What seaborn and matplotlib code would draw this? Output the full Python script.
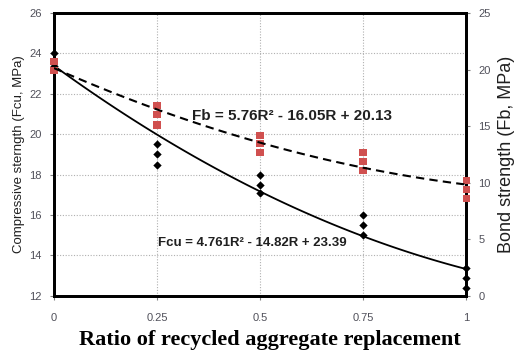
import numpy as np
import pandas as pd
import matplotlib
matplotlib.use("Agg")
import matplotlib.pyplot as plt
import seaborn as sns

# ---- data ----
fcu_ratio = [0, 0, 0.25, 0.25, 0.25, 0.5, 0.5, 0.5, 0.75, 0.75, 0.75, 1, 1, 1]
fcu_value = [24.0, 23.4, 19.5, 19.0, 18.5, 18.0, 17.5, 17.1, 16.0, 15.5, 15.0, 13.4, 12.9, 12.4]

fb_ratio = [0, 0, 0.25, 0.25, 0.25, 0.5, 0.5, 0.5, 0.75, 0.75, 0.75, 1, 1, 1]
fb_value = [20.7, 19.9, 16.8, 16.0, 15.1, 14.2, 13.5, 12.7, 12.7, 11.9, 11.1, 10.2, 9.4, 8.6]

# trendline coefficients shown on the chart (a*R^2 + b*R + c)
fcu_coef = [4.761, -14.82, 23.39]
fb_coef = [5.76, -16.05, 20.13]

x_ticks = [0, 0.25, 0.5, 0.75, 1]
x_ticklabels = ["0", "0.25", "0.5", "0.75", "1"]
left_ticks = [12, 14, 16, 18, 20, 22, 24, 26]
right_ticks = [0, 5, 10, 15, 20, 25]

sns.set_style("white")
plt.rcParams["font.family"] = ["Liberation Sans", "DejaVu Sans"]

fig = plt.figure(figsize=(5.19, 3.60), dpi=100)
ax = fig.add_axes([0.104, 0.178, 0.794, 0.786])
ax2 = ax.twinx()

R = np.linspace(0, 1, 101)
trend = pd.DataFrame({
    "R": R,
    "Fcu": np.polyval(fcu_coef, R),
    "Fb": np.polyval(fb_coef, R),
})

grid_kw = dict(color="#b0b0b0", linestyle=(0, (1, 1.5)), linewidth=0.8)
for t in left_ticks[1:-1]:
    ax.axhline(t, zorder=0, **grid_kw)
for t in x_ticks[1:-1]:
    ax.axvline(t, zorder=0, **grid_kw)

sns.lineplot(data=trend, x="R", y="Fcu", ax=ax, color="black", linewidth=1.3, zorder=3)
sns.scatterplot(x=fcu_ratio, y=fcu_value, ax=ax, marker="D", s=18, color="black",
                edgecolor="black", linewidth=0, zorder=4, clip_on=False)

sns.scatterplot(x=fb_ratio, y=fb_value, ax=ax2, marker="s", s=26, color="#d0504f",
                edgecolor="none", linewidth=0, zorder=3, clip_on=False)
sns.lineplot(data=trend, x="R", y="Fb", ax=ax2, color="black", linewidth=1.5,
             linestyle=(0, (4, 2.5)), zorder=4)

ax.set_xlim(0, 1)
ax.set_ylim(12, 26)
ax2.set_ylim(0, 25)
ax.set_xticks(x_ticks)
ax.set_xticklabels(x_ticklabels)
ax.set_yticks(left_ticks)
ax2.set_yticks(right_ticks)

tick_color = "#50505a"
ax.tick_params(axis="x", direction="out", length=3, width=0.8, colors="#808080",
               labelcolor=tick_color, labelsize=8, bottom=True, pad=9)
ax.tick_params(axis="y", direction="out", length=3, width=0.8, colors="#808080",
               labelcolor=tick_color, labelsize=8, left=True, pad=6)
ax2.tick_params(axis="y", direction="out", length=3, width=0.8, colors="#808080",
                labelcolor=tick_color, labelsize=8, right=True, pad=6)

for a in (ax, ax2):
    for s in a.spines.values():
        s.set_visible(True)
        s.set_color("black")
        s.set_linewidth(2.0)

ax.set_xlabel("Ratio of recycled aggregate replacement", family=["Liberation Serif"],
              fontweight="bold", fontsize=16, color="black")
ax.xaxis.set_label_coords(0.524, -0.12)
ax.set_ylabel("Compressive sterngth (Fcu, MPa)", fontsize=9.5, color="#202020", labelpad=3)
ax2.set_ylabel("Bond strength (Fb, MPa)", fontsize=13, color="#202020", labelpad=5)

ax2.text(0.335, 15.9, "Fb = 5.76R² - 16.05R + 20.13", fontsize=11, fontweight="bold",
         va="center", ha="left", color="#202020")
ax.text(0.252, 14.6, "Fcu = 4.761R² - 14.82R + 23.39", fontsize=9.5, fontweight="bold",
        va="center", ha="left", color="#202020")

fig.savefig("out.png", dpi=100)
